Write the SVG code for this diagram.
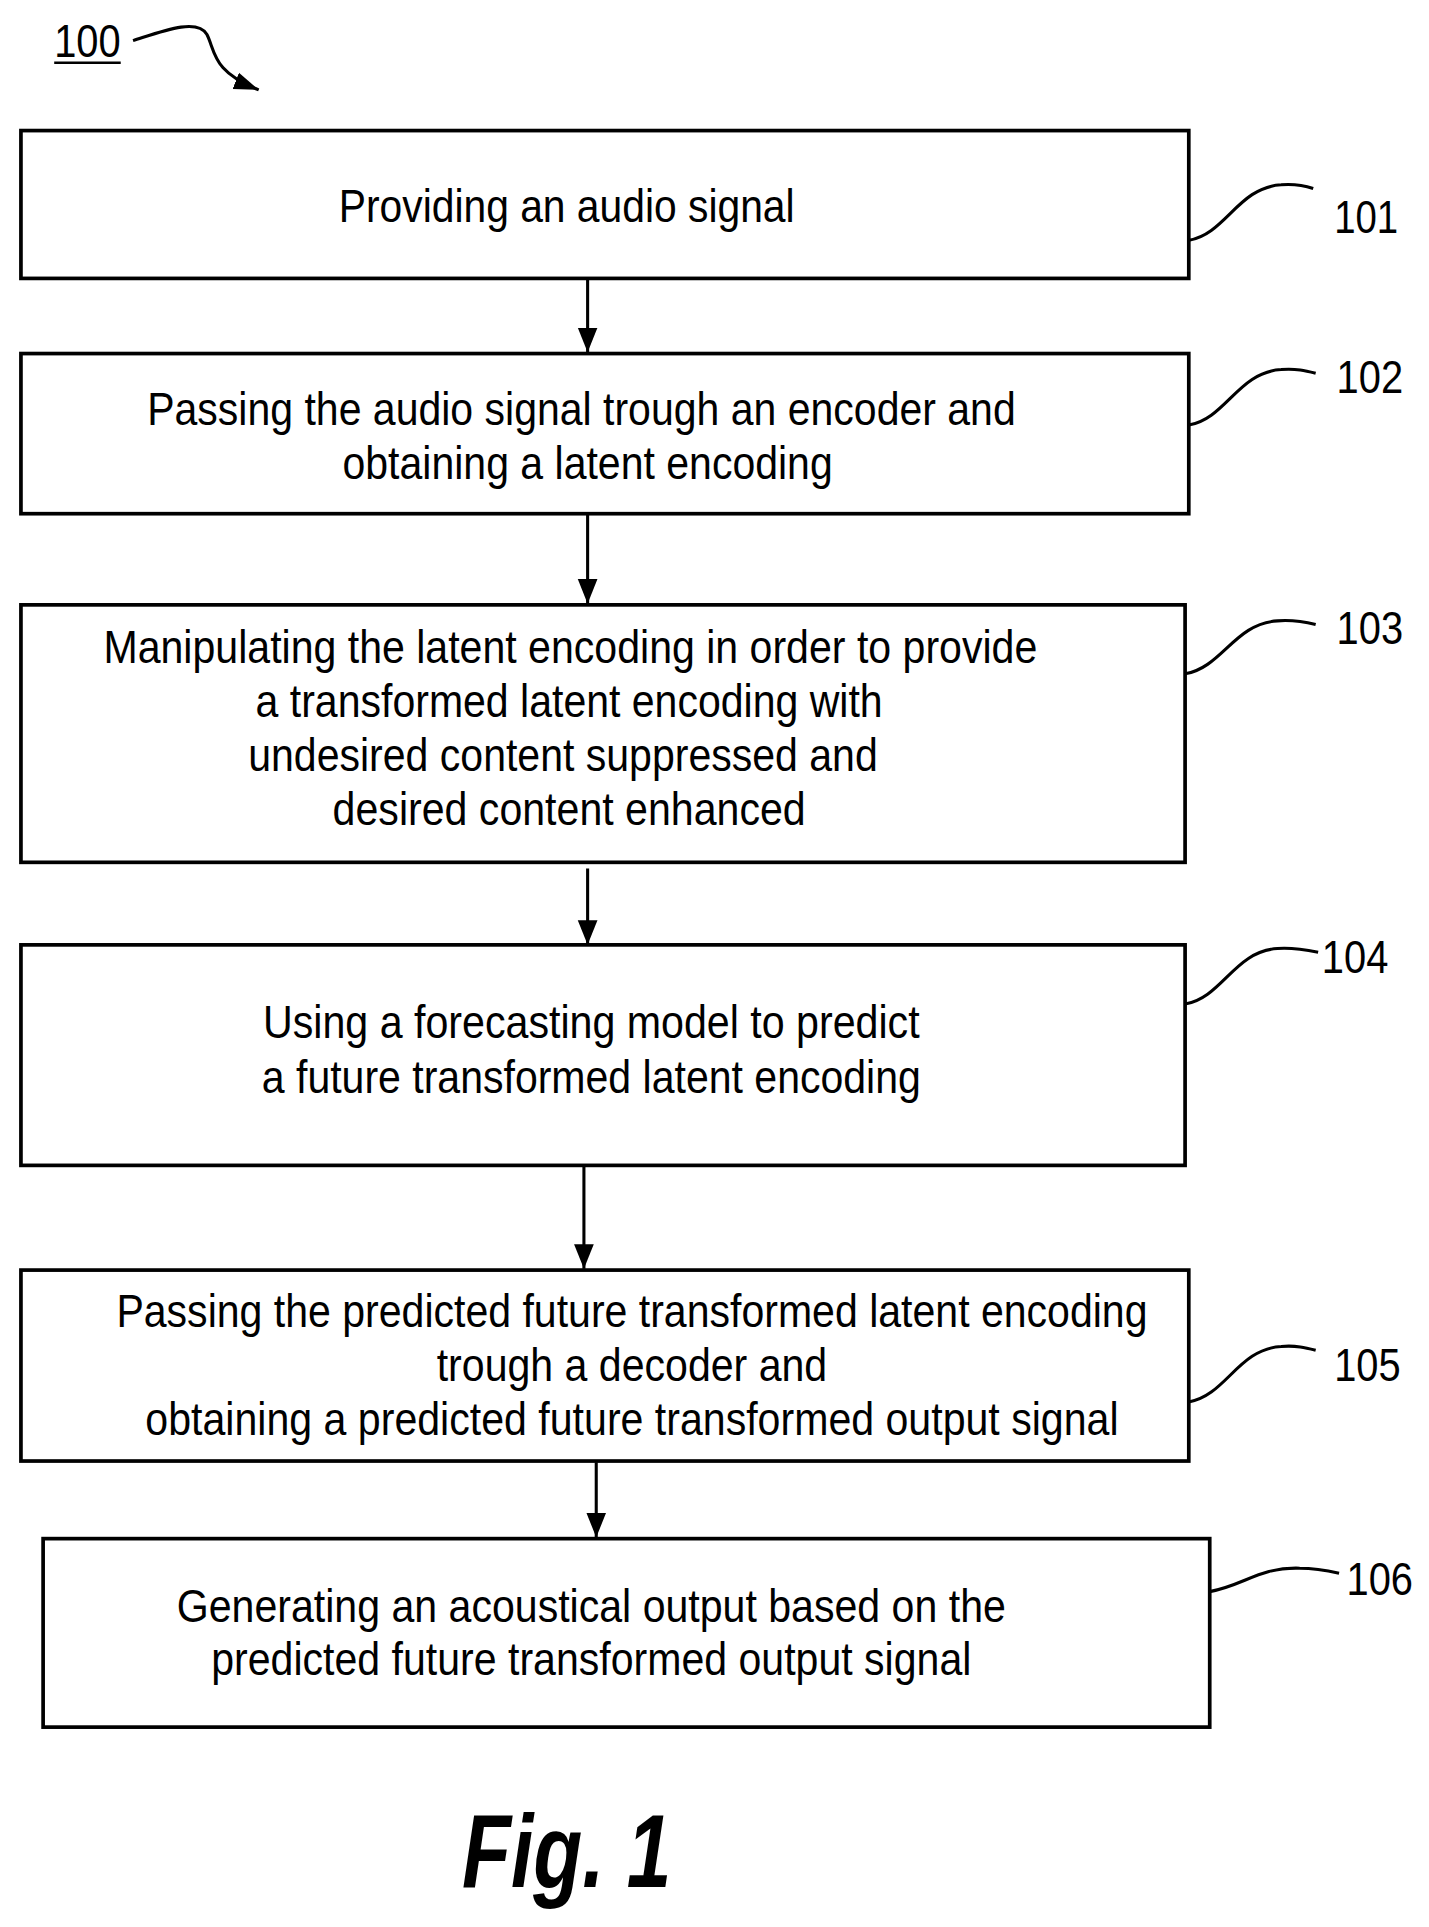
<svg xmlns="http://www.w3.org/2000/svg" width="1429" height="1927" viewBox="0 0 1429 1927">
<style>
.box{fill:#fff;stroke:#000;stroke-width:3}
.ln{fill:none;stroke:#000;stroke-width:2.5}
.t{font-family:"Liberation Sans",Arial,sans-serif;font-size:38px;fill:#000}
.c{text-anchor:middle}
</style>
<defs>
<marker id="ah" markerWidth="20" markerHeight="16" refX="20" refY="8" orient="auto" markerUnits="userSpaceOnUse">
<path d="M0,1 L20,8 L0,15 Z" fill="#000"/>
</marker>
<marker id="ah2" markerWidth="20" markerHeight="22" refX="20" refY="11" orient="auto" markerUnits="userSpaceOnUse">
<path d="M0,3 L20,11 L0,19 Z" fill="#000"/>
</marker>
</defs>
<rect width="1429" height="1927" fill="#fff"/>
<g transform="scale(1.2319)">
<g id="ref100">
<text class="t" x="44" y="46" textLength="54" lengthAdjust="spacingAndGlyphs">100</text>
<line x1="44" y1="51" x2="98" y2="51" stroke="#000" stroke-width="2"/>
<path class="ln" d="M108,33 C130,26 160,14 168,28 C175,42 172,58 210,73" marker-end="url(#ah)"/>
</g>
<g id="connectors">
<line class="ln" x1="477" y1="227" x2="477" y2="286" marker-end="url(#ah2)"/>
<line class="ln" x1="477" y1="418" x2="477" y2="490" marker-end="url(#ah2)"/>
<line class="ln" x1="477" y1="705" x2="477" y2="767" marker-end="url(#ah2)"/>
<line class="ln" x1="474" y1="947" x2="474" y2="1030" marker-end="url(#ah2)"/>
<line class="ln" x1="484" y1="1187" x2="484" y2="1248" marker-end="url(#ah2)"/>
</g>
<g id="n101">
<rect class="box" x="17" y="106" width="948" height="120"/>
<text class="t c" x="460" y="180" textLength="370" lengthAdjust="spacingAndGlyphs">Providing an audio signal</text>
<path class="ln" d="M965,195 C995,190 1005,152 1040,150 C1052,149 1060,151 1066,153"/>
<text class="t" x="1083" y="189" textLength="52" lengthAdjust="spacingAndGlyphs">101</text>
</g>
<g id="n102">
<rect class="box" x="17" y="287" width="948" height="130"/>
<text class="t c" x="472" y="345" textLength="705" lengthAdjust="spacingAndGlyphs">Passing the audio signal trough an encoder and</text>
<text class="t c" x="477" y="389" textLength="398" lengthAdjust="spacingAndGlyphs">obtaining a latent encoding</text>
<path class="ln" d="M965,345 C995,340 1005,302 1040,300 C1052,299 1060,301 1068,303"/>
<text class="t" x="1085" y="319" textLength="54" lengthAdjust="spacingAndGlyphs">102</text>
</g>
<g id="n103">
<rect class="box" x="17" y="491" width="945" height="209"/>
<text class="t c" x="463" y="538" textLength="758" lengthAdjust="spacingAndGlyphs">Manipulating the latent encoding in order to provide</text>
<text class="t c" x="462" y="582" textLength="509" lengthAdjust="spacingAndGlyphs">a transformed latent encoding with</text>
<text class="t c" x="457" y="626" textLength="511" lengthAdjust="spacingAndGlyphs">undesired content suppressed and</text>
<text class="t c" x="462" y="670" textLength="384" lengthAdjust="spacingAndGlyphs">desired content enhanced</text>
<path class="ln" d="M962,547 C992,542 1002,506 1037,504 C1050,503 1060,505 1068,507"/>
<text class="t" x="1085" y="523" textLength="54" lengthAdjust="spacingAndGlyphs">103</text>
</g>
<g id="n104">
<rect class="box" x="17" y="767" width="945" height="179"/>
<text class="t c" x="480" y="843" textLength="533" lengthAdjust="spacingAndGlyphs">Using a forecasting model to predict</text>
<text class="t c" x="480" y="887" textLength="535" lengthAdjust="spacingAndGlyphs">a future transformed latent encoding</text>
<path class="ln" d="M962,815 C992,810 1002,772 1037,770 C1050,769 1060,771 1070,773"/>
<text class="t" x="1073" y="790" textLength="54" lengthAdjust="spacingAndGlyphs">104</text>
</g>
<g id="n105">
<rect class="box" x="17" y="1031" width="948" height="155"/>
<text class="t c" x="513" y="1077" textLength="837" lengthAdjust="spacingAndGlyphs">Passing the predicted future transformed latent encoding</text>
<text class="t c" x="513" y="1121" textLength="317" lengthAdjust="spacingAndGlyphs">trough a decoder and</text>
<text class="t c" x="513" y="1165" textLength="790" lengthAdjust="spacingAndGlyphs">obtaining a predicted future transformed output signal</text>
<path class="ln" d="M965,1138 C995,1133 1005,1095 1040,1093 C1052,1092 1060,1094 1068,1096"/>
<text class="t" x="1083" y="1121" textLength="54" lengthAdjust="spacingAndGlyphs">105</text>
</g>
<g id="n106">
<rect class="box" x="35" y="1249" width="947" height="153"/>
<text class="t c" x="480" y="1317" textLength="673" lengthAdjust="spacingAndGlyphs">Generating an acoustical output based on the</text>
<text class="t c" x="480" y="1360" textLength="617" lengthAdjust="spacingAndGlyphs">predicted future transformed output signal</text>
<path class="ln" d="M982,1292 C1010,1287 1022,1272 1055,1273 C1068,1273 1078,1275 1087,1277"/>
<text class="t" x="1093" y="1295" textLength="54" lengthAdjust="spacingAndGlyphs">106</text>
</g>
<text x="375" y="1532" font-family="Liberation Sans,Arial,sans-serif" font-size="84" font-weight="bold" font-style="italic" textLength="170" lengthAdjust="spacingAndGlyphs">Fig. 1</text>
</g>
</svg>
